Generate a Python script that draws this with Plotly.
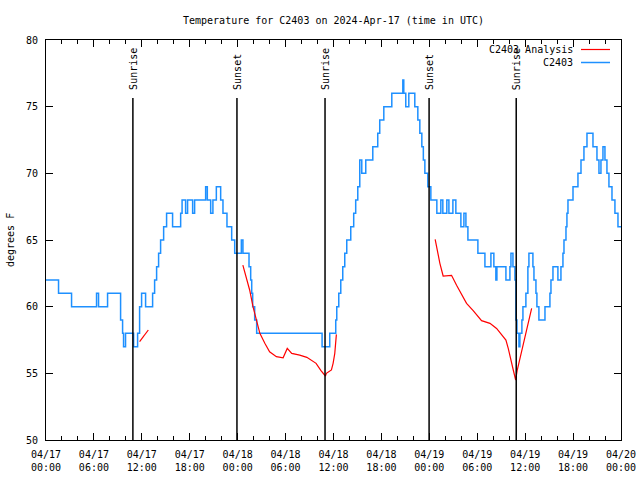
import pandas as pd
import plotly.graph_objects as go

# ---------------- data ----------------
START = pd.Timestamp("2024-04-17 00:00")

# observed station temperature (hours after 04/17 00:00 UTC, degrees F)
obs_hours = [0.00, 1.57, 3.20, 6.33, 6.58, 7.71, 9.34, 9.59, 9.71, 9.96, 10.97, 11.47, 11.72, 11.97,
             12.47, 13.35, 13.60, 13.85, 14.10, 14.35, 14.73, 15.10, 15.85, 16.86, 17.04, 17.48, 17.73,
             18.36, 18.61, 19.99, 20.20, 20.62, 20.90, 21.33, 21.87, 22.16, 22.66, 23.25, 23.63, 24.46,
             24.66, 25.42, 25.63, 25.76, 25.88, 26.13, 26.38, 34.57, 35.53, 36.28, 36.41, 36.66, 36.91,
             37.16, 37.41, 37.66, 38.16, 38.53, 38.78, 39.04, 39.29, 39.54, 40.04, 40.92, 41.54, 41.79,
             42.30, 43.30, 44.68, 44.80, 45.05, 45.43, 46.18, 46.56, 46.81, 47.06, 47.25, 47.44, 47.81,
             48.19, 48.94, 49.44, 49.69, 50.19, 50.45, 50.95, 51.32, 51.95, 52.33, 52.58, 52.83, 54.08,
             54.96, 55.71, 56.08, 56.33, 56.46, 57.59, 58.09, 58.22, 58.47, 58.72, 58.84, 58.97, 59.22,
             59.34, 59.59, 59.72, 60.09, 60.34, 60.47, 60.97, 61.10, 61.35, 61.47, 61.72, 62.48, 63.10,
             63.23, 63.48, 64.10, 64.48, 64.73, 64.86, 65.11, 65.23, 65.36, 65.99, 66.36, 66.61, 66.99,
             67.36, 67.74, 68.49, 68.99, 69.24, 69.49, 69.74, 69.99, 70.24, 70.49, 70.87, 71.24, 71.62,
             72.00]
obs_temps = [62, 61, 60, 61, 60, 61, 59, 58, 57, 58, 57, 58, 60, 61,
             60, 61, 62, 63, 64, 65, 66, 67, 66, 67, 68, 67, 68,
             67, 68, 69, 68, 67, 68, 69, 68, 67, 66, 65, 64, 65,
             64, 63, 62, 61, 60, 59, 58, 57, 58, 59, 60, 61, 62,
             63, 64, 65, 66, 67, 68, 69, 71, 70, 71, 72, 73, 74,
             75, 76, 77, 76, 75, 76, 75, 74, 73, 72, 71, 70, 69,
             68, 67, 68, 67, 68, 67, 68, 67, 66, 67, 66, 65, 64,
             63, 64, 63, 62, 63, 62, 63, 64, 63, 62, 59, 58, 57,
             58, 59, 60, 61, 63, 64, 63, 62, 61, 60, 59, 60, 61,
             62, 63, 62, 63, 64, 65, 66, 67, 68, 69, 69, 70, 71,
             72, 73, 72, 71, 70, 71, 72, 71, 70, 69, 68, 67, 66,
             66]

# analysis temperature, three separate segments
ana1_hours = [11.72, 12.81]
ana1_temps = [57.37, 58.25]
ana2_hours = [24.65, 25.50, 25.92, 26.78, 27.40, 28.00, 28.85, 29.69, 30.21, 30.77, 31.77, 32.66,
              33.82, 34.43, 34.99, 35.11, 35.74, 35.95, 36.16, 36.36]
ana2_temps = [63.12, 61.25, 60.00, 58.00, 57.25, 56.62, 56.25, 56.17, 56.87, 56.50, 56.37, 56.20,
              55.75, 55.20, 54.80, 55.00, 55.25, 55.75, 56.50, 57.92]
ana3_hours = [48.73, 49.32, 49.73, 50.78, 51.41, 52.66, 53.49, 54.54, 55.59, 56.42, 57.59, 57.88,
              58.51, 58.81, 59.01, 59.76, 60.81]
ana3_temps = [65.05, 63.25, 62.30, 62.35, 61.60, 60.25, 59.70, 58.95, 58.75, 58.37, 57.50, 56.87,
              55.25, 54.50, 55.25, 57.13, 59.87]

# sun events (hours after 04/17 00:00 UTC)
event_hours = [10.88, 23.91, 34.94, 47.97, 58.88]
event_names = ["Sunrise", "Sunset", "Sunrise", "Sunset", "Sunrise"]

y_ticks = [50, 55, 60, 65, 70, 75, 80]


def to_time(hours):
    return [START + pd.Timedelta(hours=h) for h in hours]


FONT = "DejaVu Sans Mono"
BLUE = "#1e90ff"
RED = "#ff0000"

fig = go.Figure()

fig.add_trace(go.Scatter(x=to_time(obs_hours), y=obs_temps, mode="lines", name="C2403",
                         line=dict(color=BLUE, width=1.5, shape="hv"), showlegend=False))
for hrs, tmp in [(ana1_hours, ana1_temps), (ana2_hours, ana2_temps), (ana3_hours, ana3_temps)]:
    fig.add_trace(go.Scatter(x=to_time(hrs), y=tmp, mode="lines", name="C2403 Analysis",
                             line=dict(color=RED, width=1.2), showlegend=False))

# sunrise / sunset markers
for h, name in zip(event_hours, event_names):
    t = START + pd.Timedelta(hours=h)
    fig.add_shape(type="line", xref="x", yref="y", x0=t, x1=t, y0=50, y1=75.65,
                  line=dict(color="black", width=1.5))
    fig.add_annotation(x=t, y=76.1, xref="x", yref="y", text=name, textangle=-90,
                       showarrow=False, xanchor="center", yanchor="bottom",
                       font=dict(family=FONT, size=10, color="black"))

# manual gnuplot-style legend (text left of sample)
legend_items = [("C2403 Analysis", RED, 1.2, 1 - 9.5 / 400), ("C2403", BLUE, 1.5, 1 - 22.5 / 400)]
for label, col, w, yp in legend_items:
    fig.add_annotation(x=(575 - 46) / 575, y=yp, xref="paper", yref="paper", text=label,
                       showarrow=False, xanchor="right", yanchor="middle",
                       font=dict(family=FONT, size=10, color="black"))
    fig.add_shape(type="line", xref="paper", yref="paper", x0=(581 - 46) / 575, x1=(610 - 46) / 575,
                  y0=yp, y1=yp, line=dict(color=col, width=w))

# y-axis title
fig.add_annotation(x=-36 / 575, y=0.5, xref="paper", yref="paper", text="degrees F", textangle=-90,
                   showarrow=False, xanchor="center", yanchor="middle",
                   font=dict(family=FONT, size=10, color="black"))

fig.update_layout(
    width=640, height=480, autosize=False,
    margin=dict(l=46, r=19, t=40, b=40, autoexpand=False),
    paper_bgcolor="white", plot_bgcolor="white",
    font=dict(family=FONT, size=10, color="black"),
    title=dict(text="Temperature for C2403 on 2024-Apr-17 (time in UTC)", x=(46 + 287.5) / 640,
               xanchor="center", y=1 - 20 / 480, yanchor="middle",
               font=dict(family=FONT, size=10, color="black")),
    showlegend=False,
)

fig.update_xaxes(
    type="date", range=[START, START + pd.Timedelta(hours=72)],
    dtick=6 * 3600 * 1000, tick0=START, tickformat="%m/%d<br>%H:%M",
    ticks="inside", ticklen=7, tickwidth=1, tickcolor="black", ticklabelstandoff=5,
    minor=dict(dtick=2 * 3600 * 1000, ticks="inside", ticklen=4, tickcolor="black", showgrid=False),
    showline=True, linecolor="black", linewidth=1, mirror="ticks", showgrid=False, zeroline=False,
    tickfont=dict(family=FONT, size=10, color="black"),
)
fig.update_yaxes(
    range=[50, 80], tickvals=y_ticks,
    ticks="inside", ticklen=7, tickwidth=1, tickcolor="black", ticklabelstandoff=5,
    showline=True, linecolor="black", linewidth=1, mirror="ticks", showgrid=False, zeroline=False,
    tickfont=dict(family=FONT, size=10, color="black"),
)

fig.write_html("out.html", config={"responsive": False, "displayModeBar": False},
               post_script="document.body.style.margin='0px';")
